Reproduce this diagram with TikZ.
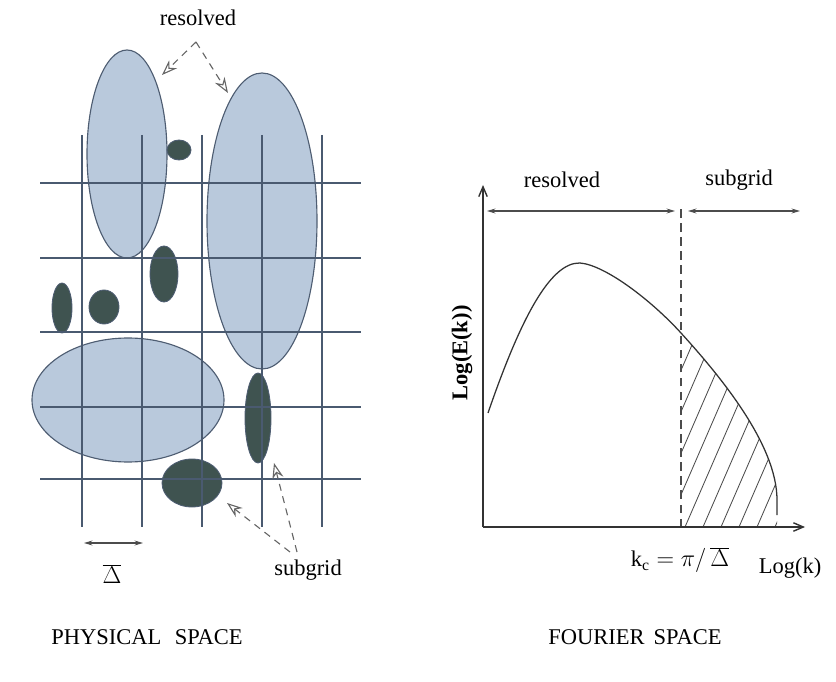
\documentclass[tikz,border=0pt]{standalone}
\usepackage{fontspec}
\setmainfont{Liberation Serif}
\usetikzlibrary{arrows.meta}
\definecolor{blobblue}{HTML}{B9C9DC}
\definecolor{blobdark}{HTML}{3F5350}
\definecolor{blobedge}{HTML}{4E5D72}
\definecolor{gridblue}{HTML}{4A5A70}
\tikzset{
  bigblob/.style={fill=blobblue, draw=blobedge, line width=0.8pt},
  smallblob/.style={fill=blobdark, draw=blobedge, line width=0.6pt},
  gridline/.style={draw=gridblue, line width=0.9pt},
  pointer/.style={draw=black!60, line width=0.8pt, dash pattern=on 5pt off 4pt,
    -{Stealth[open, length=11pt, width=8pt]}},
  span/.style={draw=black!70, line width=0.8pt,
    {Stealth[length=6pt, width=3.5pt]}-{Stealth[length=6pt, width=3.5pt]}},
  axisline/.style={draw=black!80, line width=1pt, -{Straight Barb[length=7pt, width=6pt]}},
  cutline/.style={draw=black!70, line width=0.8pt, dash pattern=on 6pt off 4pt},
  spectrum/.style={draw=black!80, line width=0.9pt},
  hatch/.style={draw=black!70, line width=0.6pt},
  lbl/.style={font=\fontsize{16}{19}\selectfont, inner sep=1pt},
}

\begin{document}
\begin{tikzpicture}[x=0.025cm, y=-0.025cm]
\useasboundingbox (0,0) rectangle (836,682);
% physical space: eddies
\draw[bigblob] (127,154) ellipse [x radius=40, y radius=104];
\draw[bigblob] (262,221) ellipse [x radius=55, y radius=148];
\draw[bigblob] (128,400) ellipse [x radius=96, y radius=62];
\draw[smallblob] (179,150) ellipse [x radius=12, y radius=10];
\draw[smallblob] (164,274) ellipse [x radius=14, y radius=28];
\draw[smallblob] (62,308) ellipse [x radius=10, y radius=25];
\draw[smallblob] (104,307) ellipse [x radius=15, y radius=17];
\draw[smallblob] (258,418) ellipse [x radius=13, y radius=45];
\draw[smallblob] (192,483) ellipse [x radius=30, y radius=24];
% mesh
\foreach \gx in {82,142,202,262,322}
  \draw[gridline] (\gx,135) -- (\gx,527);
\foreach \gy in {183,258,332,407,479}
  \draw[gridline] (40,\gy) -- (361,\gy);
% labels and pointers
\node[lbl] (resolvedP) at (198,18) {resolved};
\coordinate (resfork) at (196,42);
\coordinate (resA) at (162,75);
\coordinate (resB) at (228,93);
\draw[pointer] (resfork) -- (resA);
\draw[pointer] (resfork) -- (resB);
\node[lbl] (subgridP) at (308,570) {subgrid};
\coordinate (subforkA) at (290,552);
\coordinate (subforkB) at (297,552);
\coordinate (subA) at (227,503);
\coordinate (subB) at (274,463);
\draw[pointer] (subforkA) -- (subA);
\draw[pointer] (subforkB) -- (subB);
\coordinate (deltaL) at (84,543);
\coordinate (deltaR) at (143,543);
\draw[span] (deltaL) -- (deltaR);
\node[lbl] (deltaP) at (112,574) {$\overline{\Delta}$};
\node[lbl] (physP) at (147,637) {PHYSICAL\hspace{0.6em}SPACE};
% fourier space
\coordinate (origin) at (483,527);
\coordinate (ytop) at (483,185);
\coordinate (xend) at (805,527);
\coordinate (kc) at (681,527);
\coordinate (kctop) at (681,209);
\begin{scope}
  \clip (681,527) -- (681,333) .. controls (721,377) and (777,445) .. (777,500) -- (777,527) -- cycle;
  \foreach \h in {0,...,11}
    \draw[hatch] (595+\h*18,527) -- ++(92,-212);
\end{scope}
\draw[cutline] (kc) -- (kctop);
\draw[spectrum] (488,413) .. controls (520,320) and (550,262) .. (580,263)
  .. controls (605,265) and (651,300) .. (681,333)
  .. controls (721,377) and (777,445) .. (777,500) -- (777,515);
\draw[axisline] (origin) -- (ytop);
\draw[axisline] (origin) -- (xend);
\coordinate (resL) at (487,211);
\coordinate (resR) at (675,211);
\coordinate (subL) at (688,211);
\coordinate (subR) at (800,211);
\draw[span] (resL) -- (resR);
\draw[span] (subL) -- (subR);
\node[lbl] (resolvedF) at (562,180) {resolved};
\node[lbl] (subgridF) at (739,180) {subgrid};
\node[lbl, rotate=90, font=\fontsize{16}{19}\selectfont\bfseries] (logE) at (462,353) {Log(E(k))};
\node[lbl] (kcP) at (680,560) {$\mathrm{k_c} = \pi/\,\overline{\Delta}$};
\node[lbl] (logk) at (790,568) {Log(k)};
\node[lbl] (fourP) at (635,637) {FOURIER\hspace{0.4em}SPACE};
\end{tikzpicture}
\end{document}
